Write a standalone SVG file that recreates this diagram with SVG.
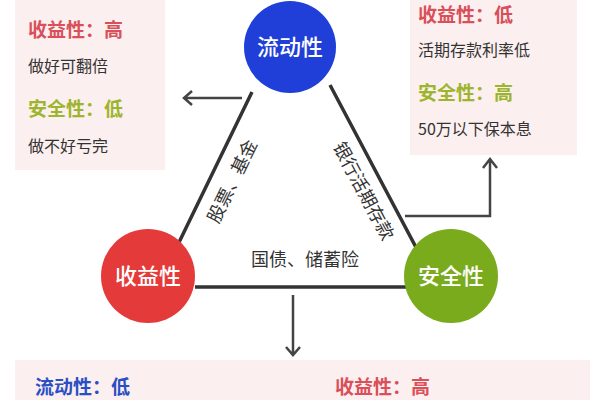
<svg xmlns="http://www.w3.org/2000/svg" width="600" height="400" viewBox="0 0 600 400">
<defs>
<style>
text{font-family:"Noto Sans CJK SC","Noto Sans",sans-serif}
.box{fill:#fcefef}
.h{font-size:19px;font-weight:bold}
.r{fill:#d9505a}.g{fill:#9db52c}.b{fill:#2a4fc4}
.t{font-size:16px;fill:#333}
.l{font-size:18px;fill:#333}
.c{font-size:22px;fill:#fff;text-anchor:middle;font-weight:500}
.ln{stroke:#333;stroke-width:3.5;fill:none}
.ar{stroke:#444;stroke-width:2.5;fill:none}
</style>
</defs>
<rect width="600" height="400" fill="#fff"/>
<g id="box-left"><rect class="box" x="15" y="-5" width="150" height="175"/>
<text class="h r" x="28" y="37">收益性：高</text><text class="t" x="28" y="72">做好可翻倍</text>
<text class="h g" x="28" y="116">安全性：低</text><text class="t" x="28" y="152">做不好亏完</text></g>
<g id="box-right"><rect class="box" x="410" y="-5" width="167" height="160"/>
<text class="h r" x="418" y="22">收益性：低</text><text class="t" x="418" y="56">活期存款利率低</text>
<text class="h g" x="418" y="100">安全性：高</text><text class="t" x="418" y="135">50万以下保本息</text></g>
<g id="box-bottom"><rect class="box" x="15" y="360" width="575" height="45"/>
<text class="h b" x="35" y="394">流动性：低</text><text class="h r" x="335" y="394">收益性：高</text></g>
<g id="connectors">
<path class="ln" d="M252 92 L168 265 M330 85 L428 270 M195 287 L407 287"/>
<path class="ar" d="M242 98 H185 M192 91 L184 98 L192 105"/>
<path class="ar" d="M405 216 H490 V160 M483 168 L490 159 L497 168"/>
<path class="ar" d="M293 295 V355 M286 347 L293 355 L300 347"/>
</g>
<g id="labels">
<text class="l" text-anchor="middle" transform="translate(238,184) rotate(-64)">股票、基金</text>
<text class="l" text-anchor="middle" transform="translate(358,194) rotate(62)">银行活期存款</text>
<text class="l" text-anchor="middle" x="305" y="266">国债、储蓄险</text>
</g>
<g id="node-liquidity"><circle cx="290" cy="47" r="46" fill="#1f3fd8"/><text class="c" x="290" y="55">流动性</text></g>
<g id="node-return"><circle cx="148" cy="276" r="47" fill="#e53a3a"/><text class="c" x="148" y="284">收益性</text></g>
<g id="node-safety"><circle cx="451" cy="276" r="47" fill="#7aab1c"/><text class="c" x="451" y="284">安全性</text></g>
</svg>
